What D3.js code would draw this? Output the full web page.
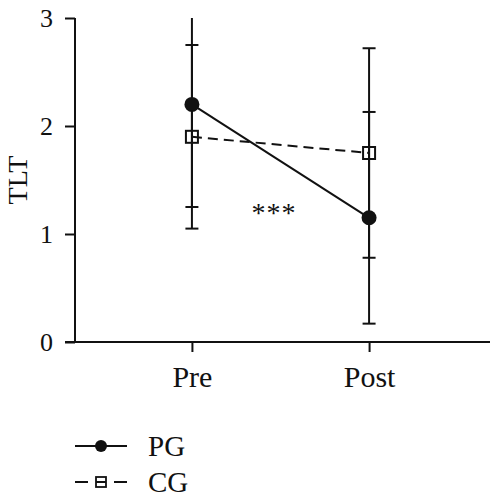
<!DOCTYPE html>
<html>
<head>
<meta charset="utf-8">
<script src="https://cdn.jsdelivr.net/npm/d3@7"></script>
<style>
  html, body { margin: 0; padding: 0; background: #fff; }
  svg { display: block; }
  text { font-family: "Liberation Serif", "Times New Roman", serif; fill: #111; }
</style>
</head>
<body>
<svg id="chart" width="490" height="500"></svg>
<script>
// ---- data ----
const categories = ["Pre", "Post"];
const pgMean = [2.2, 1.15];
const pgSD = [0.95, 0.98];
const cgMean = [1.9, 1.75];
const cgSD = [0.85, 0.97];
const yTicks = [0, 1, 2, 3];
const seriesNames = ["PG", "CG"];
const annotation = "***";
const yLabel = "TLT";

const svg = d3.select("#chart");
const ink = "#111";

const x = d3.scalePoint().domain(categories).range([75, 486]).padding(0.66);
const y = d3.scaleLinear().domain([0, 3]).range([342, 18]);

// ---- axes ----
const yAxis = svg.append("g").attr("transform", "translate(75,0)")
  .call(d3.axisLeft(y).tickValues(yTicks).tickSize(10).tickPadding(12).tickFormat(d3.format("d")));
yAxis.select(".domain").remove();
yAxis.append("line").attr("x1", 0).attr("x2", 0).attr("y1", y(3)).attr("y2", y(0))
  .attr("stroke", ink).attr("stroke-width", 2);
yAxis.selectAll(".tick line").attr("stroke", ink).attr("stroke-width", 2);
yAxis.selectAll(".tick text").attr("font-size", 26).attr("fill", ink);

const xAxis = svg.append("g").attr("transform", "translate(0," + y(0) + ")")
  .call(d3.axisBottom(x).tickSize(10).tickPadding(14));
xAxis.select(".domain").remove();
xAxis.append("line").attr("x1", 65).attr("x2", 490).attr("y1", 0).attr("y2", 0)
  .attr("stroke", ink).attr("stroke-width", 2);
xAxis.selectAll(".tick line").attr("stroke", ink).attr("stroke-width", 2);
xAxis.selectAll(".tick text").attr("font-size", 30).attr("fill", ink);

svg.append("text")
  .attr("transform", "translate(27," + y(1.5) + ") rotate(-90)")
  .attr("text-anchor", "middle").attr("font-size", 28).text(yLabel);

// ---- error bars ----
const capW = 13;
function errorBars(means, sds) {
  const g = svg.append("g");
  categories.forEach((c, i) => {
    const hi = means[i] + sds[i], lo = means[i] - sds[i];
    const top = Math.min(hi, 3);
    g.append("line").attr("x1", x(c)).attr("x2", x(c))
      .attr("y1", y(top)).attr("y2", y(Math.max(lo, 0)))
      .attr("stroke", ink).attr("stroke-width", 2);
    [hi, lo].forEach(v => {
      if (v <= 3 && v >= 0) {
        g.append("line").attr("x1", x(c) - capW / 2).attr("x2", x(c) + capW / 2)
          .attr("y1", y(v)).attr("y2", y(v)).attr("stroke", ink).attr("stroke-width", 2);
      }
    });
  });
}
errorBars(pgMean, pgSD);
errorBars(cgMean, cgSD);

// ---- lines ----
const line = d3.line().x((d, i) => x(categories[i])).y(d => y(d));
svg.append("path").datum(pgMean).attr("d", line)
  .attr("fill", "none").attr("stroke", ink).attr("stroke-width", 2);
svg.append("path").datum(cgMean).attr("d", line)
  .attr("fill", "none").attr("stroke", ink).attr("stroke-width", 2)
  .attr("stroke-dasharray", "10,6");

// ---- markers ----
svg.append("g").selectAll("circle").data(pgMean).join("circle")
  .attr("cx", (d, i) => x(categories[i])).attr("cy", d => y(d)).attr("r", 7.5)
  .attr("fill", ink);
const sq = 12;
svg.append("g").selectAll("rect").data(cgMean).join("rect")
  .attr("x", (d, i) => x(categories[i]) - sq / 2).attr("y", d => y(d) - sq / 2)
  .attr("width", sq).attr("height", sq)
  .attr("fill", "none").attr("stroke", ink).attr("stroke-width", 2);

// ---- annotation ----
svg.append("text").attr("x", 274).attr("y", 222).attr("text-anchor", "middle")
  .attr("font-size", 28).attr("letter-spacing", 1).text(annotation);

// ---- legend ----
const leg = svg.append("g");
const legY = [446, 482];
leg.append("line").attr("x1", 75).attr("x2", 127).attr("y1", legY[0]).attr("y2", legY[0])
  .attr("stroke", ink).attr("stroke-width", 2);
leg.append("circle").attr("cx", 101).attr("cy", legY[0]).attr("r", 6).attr("fill", ink);
leg.append("line").attr("x1", 75).attr("x2", 127).attr("y1", legY[1]).attr("y2", legY[1])
  .attr("stroke", ink).attr("stroke-width", 2).attr("stroke-dasharray", "13,8,10,8,13");
leg.append("rect").attr("x", 96).attr("y", legY[1] - 5).attr("width", 10).attr("height", 10)
  .attr("fill", "none").attr("stroke", ink).attr("stroke-width", 1.8);
leg.selectAll("text.lab").data(seriesNames).join("text").attr("class", "lab")
  .attr("x", 148).attr("y", (d, i) => legY[i] + 9.5).attr("font-size", 29).text(d => d);
</script>
</body>
</html>
